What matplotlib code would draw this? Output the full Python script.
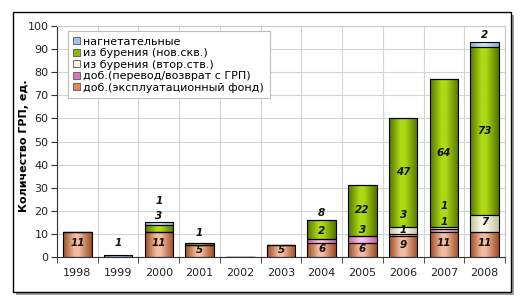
import numpy as np
import matplotlib
matplotlib.use("Agg")
import matplotlib.pyplot as plt
from matplotlib.patches import Rectangle
from matplotlib.colors import LinearSegmentedColormap

plt.rcParams['font.family'] = ['DejaVu Sans']

years = ['1998', '1999', '2000', '2001', '2002', '2003', '2004', '2005', '2006', '2007', '2008']
expl    = [11, 0, 11, 5, 0, 5, 6, 6, 9, 11, 11]   # доб.(эксплуатационный фонд)
perevod = [0, 0, 0, 0, 0, 0, 2, 3, 1, 1, 0]       # доб.(перевод/возврат с ГРП)
vtor    = [0, 0, 0, 0, 0, 0, 0, 0, 3, 1, 7]       # из бурения (втор.ств.)
nov     = [0, 0, 3, 1, 0, 0, 8, 22, 47, 64, 73]   # из бурения (нов.скв.)
nagn    = [0, 1, 1, 0, 0, 0, 0, 0, 0, 0, 2]       # нагнетательные

series_names = ['доб.(эксплуатационный фонд)', 'доб.(перевод/возврат с ГРП)',
                'из бурения (втор.ств.)', 'из бурения (нов.скв.)', 'нагнетательные']
series_vals = [expl, perevod, vtor, nov, nagn]

# label nudges (data units) for labels of thin segments
nudges = [
    [0.5] * 11,
    [0, 0, 0, 0, 0, 0, 4.3, 4.1, 2.4, 3.7, 0],
    [0, 0, 0, 0, 0, 0, 0, 0, 6.6, 9.6, 0.5],
    [0, 0, 5.3, 5.0, 0, 0, 7.0, 0.5, 0.3, 0, 0.2],
    [0, 5.7, 9.6, 0, 0, 0, 0, 0, 0, 0, 4.0],
]

colors_light = ['#F4BCA0', '#F8C0E4', '#FAFAEA', '#AEDA14', '#C8E0F8']
colors_dark = ['#9C4C26', '#C060A0', '#C0C0A0', '#557400', '#7EA8D8']
legend_colors = ['#E08858', '#E070C0', '#F0F0DC', '#8CB800', '#9CC4EC']

W, H = 522, 304
fig = plt.figure(figsize=(W / 100, H / 100), dpi=100)
fig.patch.set_facecolor('white')

# outer frame with shadow
fig.add_artist(Rectangle((16 / W, (H - 295) / H), (511 - 13) / W, (292 - 12) / H,
                         transform=fig.transFigure, facecolor='#A0A0A0', edgecolor='none', zorder=0))
fig.add_artist(Rectangle((13 / W, (H - 292) / H), (511 - 13) / W, (292 - 12) / H,
                         transform=fig.transFigure, facecolor='white', edgecolor='black', lw=1.0, zorder=0))

ax = fig.add_axes([57 / W, (H - 257) / H, (505 - 57) / W, (257 - 26) / H])
ax.set_facecolor('none')
ax.set_zorder(1)

x = np.arange(len(years))
width = 0.7
bottom = np.zeros(len(years))
for vals, name, cl, cd in zip(series_vals, series_names, colors_light, colors_dark):
    vals = np.array(vals, dtype=float)
    bars = ax.bar(x, vals, width, bottom=bottom, color='none', edgecolor='black', lw=0.8, zorder=3)
    cmap = LinearSegmentedColormap.from_list('g', [(0, cd), (0.4, cl), (0.55, cl), (1, cd)])
    grad = np.linspace(0, 1, 64).reshape(1, -1)
    for b, v in zip(bars, vals):
        if v <= 0:
            continue
        bx, by = b.get_x(), b.get_y()
        im = ax.imshow(grad, cmap=cmap, aspect='auto', extent=(bx, bx + b.get_width(), by, by + b.get_height()),
                       zorder=2, interpolation='bicubic')
        im.set_clip_path(b)
    bottom += vals

ax.set_xlim(-0.5, len(years) - 0.5)
ax.set_ylim(0, 100)

# labels
bottom = np.zeros(len(years))
for vals, nud in zip(series_vals, nudges):
    for i, v in enumerate(vals):
        if v > 0:
            ax.text(x[i], bottom[i] + v / 2 + nud[i], str(v), ha='center', va='center',
                    fontsize=7.5, fontweight='bold', fontstyle='italic', color='#111111', zorder=5)
    bottom += np.array(vals)

# legend proxies
handles = [Rectangle((0, 0), 1, 1, facecolor=c, edgecolor='#555555', lw=0.6) for c in legend_colors]
leg = ax.legend(handles[::-1], series_names[::-1], loc='upper left', bbox_to_anchor=(0.024, 0.978),
                fontsize=8, frameon=True, fancybox=False, edgecolor='#BBBBBB', framealpha=1,
                handlelength=0.6, handleheight=0.6, handletextpad=0.3, labelspacing=0.14,
                borderpad=0.5, borderaxespad=0)
leg.get_frame().set_linewidth(0.8)
leg.set_zorder(6)

ax.set_yticks(np.arange(0, 101, 10))
ax.set_xticks(x)
ax.set_xticklabels(years)
ax.set_xticks(np.arange(-0.5, len(years), 1), minor=True)
ax.tick_params(axis='x', which='major', length=0, labelsize=8, pad=8, colors='#222222')
ax.tick_params(axis='x', which='minor', length=4, direction='out', color='#333333')
ax.tick_params(axis='y', length=4, direction='out', labelsize=8, pad=2, color='#333333', labelcolor='#222222')
ax.grid(True, axis='y', color='#D4D4D4', lw=0.8, zorder=0)
ax.grid(True, axis='x', which='minor', color='#D4D4D4', lw=0.8, zorder=0)
ax.set_axisbelow(True)
for s in ['top', 'right']:
    ax.spines[s].set_color('#C8C8C8')
for s in ['left', 'bottom']:
    ax.spines[s].set_color('#333333')

ax.set_ylabel('Количество ГРП, ед.', fontsize=8, fontweight='bold')
ax.yaxis.set_label_coords((29 - 57) / (505 - 57), 0.48)

fig.savefig('out.png', dpi=100, facecolor='white')
